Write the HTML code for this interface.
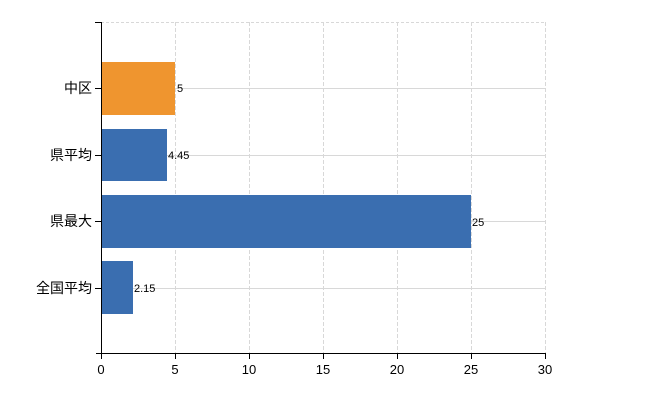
<!DOCTYPE html>
<html><head><meta charset="utf-8"><style>
html,body{margin:0;padding:0;background:#fff;}
svg text{font-family:"Liberation Sans","Noto Sans CJK JP",sans-serif;}
</style></head><body>
<svg width="650" height="400" xmlns="http://www.w3.org/2000/svg">
<g stroke="#d8d8d8" stroke-width="1">
<line x1="101" y1="22.5" x2="545" y2="22.5" stroke-dasharray="3,2"/>
<line x1="175.5" y1="22" x2="175.5" y2="353" stroke-dasharray="4,2"/>
<line x1="249.5" y1="22" x2="249.5" y2="353" stroke-dasharray="4,2"/>
<line x1="323.5" y1="22" x2="323.5" y2="353" stroke-dasharray="4,2"/>
<line x1="397.5" y1="22" x2="397.5" y2="353" stroke-dasharray="4,2"/>
<line x1="471.5" y1="22" x2="471.5" y2="353" stroke-dasharray="4,2"/>
<line x1="545.5" y1="22" x2="545.5" y2="353" stroke-dasharray="4,2"/>
<line x1="101" y1="88.5" x2="545" y2="88.5"/>
<line x1="101" y1="155.5" x2="545" y2="155.5"/>
<line x1="101" y1="221.5" x2="545" y2="221.5"/>
<line x1="101" y1="288.5" x2="545" y2="288.5"/>
</g>
<rect x="101" y="62" width="74" height="53" fill="#ef952f"/>
<rect x="101" y="129" width="66" height="52" fill="#3a6eb0"/>
<rect x="101" y="195" width="370" height="53" fill="#3a6eb0"/>
<rect x="101" y="261" width="32" height="53" fill="#3a6eb0"/>
<g stroke="#000" stroke-width="1">
<line x1="101.5" y1="22" x2="101.5" y2="354"/>
<line x1="96" y1="353.5" x2="545" y2="353.5"/>
<line x1="95" y1="22.5" x2="101" y2="22.5"/>
<line x1="95" y1="88.5" x2="101" y2="88.5"/>
<line x1="95" y1="155.5" x2="101" y2="155.5"/>
<line x1="95" y1="221.5" x2="101" y2="221.5"/>
<line x1="95" y1="288.5" x2="101" y2="288.5"/>
<line x1="101.5" y1="353" x2="101.5" y2="359"/>
<line x1="175.5" y1="353" x2="175.5" y2="359"/>
<line x1="249.5" y1="353" x2="249.5" y2="359"/>
<line x1="323.5" y1="353" x2="323.5" y2="359"/>
<line x1="397.5" y1="353" x2="397.5" y2="359"/>
<line x1="471.5" y1="353" x2="471.5" y2="359"/>
<line x1="545.5" y1="353" x2="545.5" y2="359"/>
</g>
<g font-size="14" text-anchor="end" fill="#000">
<text x="92" y="93">中区</text>
<text x="92" y="160">県平均</text>
<text x="92" y="226">県最大</text>
<text x="92" y="293">全国平均</text>
</g>
<g font-size="13" text-anchor="middle" fill="#000">
<text x="101" y="374">0</text>
<text x="175" y="374">5</text>
<text x="249" y="374">10</text>
<text x="323" y="374">15</text>
<text x="397" y="374">20</text>
<text x="471" y="374">25</text>
<text x="545" y="374">30</text>
</g>
<g font-size="11" fill="#000">
<text x="177" y="92">5</text>
<text x="168" y="159">4.45</text>
<text x="472" y="226">25</text>
<text x="134" y="292">2.15</text>
</g>
</svg>
</body></html>
